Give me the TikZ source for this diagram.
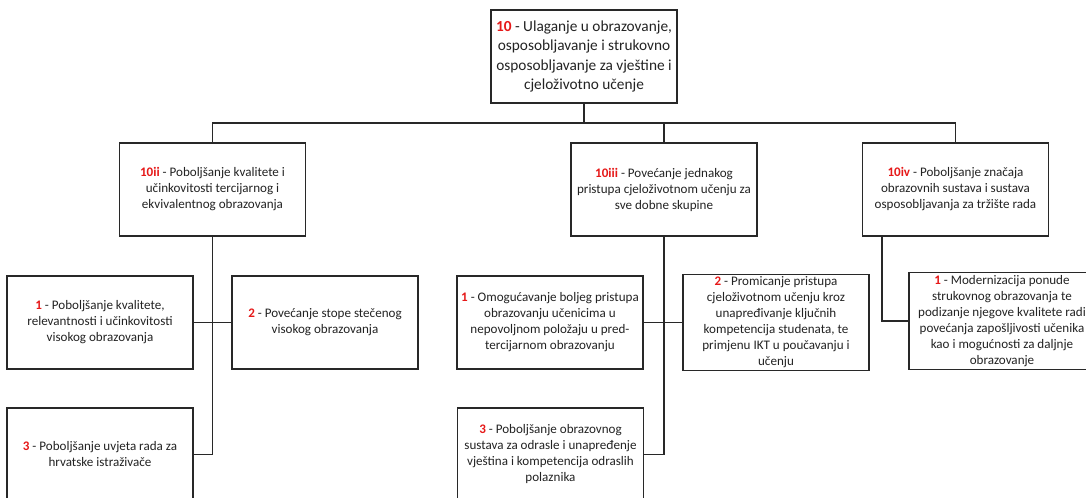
\documentclass[tikz,border=0pt]{standalone}
\usepackage{fontspec}
\setmainfont{Carlito}
\definecolor{GoalRed} {RGB}{230,25,25}
\definecolor{BoxLine} {RGB}{40,40,40}
\definecolor{BoxText} {RGB}{35,35,35}
\usetikzlibrary{positioning,calc}
\newcommand{\goalno}[1]{\textcolor{GoalRed}{\textbf{#1}}}

\begin{document}
\begin{tikzpicture}[x=0.75pt,y=-0.75pt,
  goalbox/.style={draw=BoxLine,line width=1pt,fill=white,text=BoxText,
    minimum width=139.5pt,minimum height=69.75pt,align=center,
    inner sep=2pt,font=\fontsize{9.8}{12}\selectfont},
  topbox/.style={goalbox,font=\fontsize{11.5}{14.6}\selectfont},
  link/.style={BoxLine,line width=1pt}]
  % Frame: the picture is cut at the bottom and on the right
  \useasboundingbox (0,0) rectangle (1086,497);
  \clip (0,0) rectangle (1086,497);
  % Thematic objective
  \node[topbox] (t10) at (584,56.5)
       {\goalno{10} - Ulaganje u obrazovanje,\\ osposobljavanje i strukovno\\
        osposobljavanje za vještine i\\ cjeloživotno učenje};
  % Investment priorities
  \node[goalbox] (t10ii) at (212.5,189.5)
       {\goalno{10ii} - Poboljšanje kvalitete i\\ učinkovitosti tercijarnog i\\
        ekvivalentnog obrazovanja};
  \node[goalbox] (t10iii) at (664,189.5)
       {\goalno{10iii} - Povećanje jednakog\\ pristupa cjeloživotnom učenju za\\
        sve dobne skupine};
  \node[goalbox] (t10iv) at (955.5,189.5)
       {\goalno{10iv} - Poboljšanje značaja\\ obrazovnih sustava i sustava\\
        osposobljavanja za tržište rada};
  % Specific objectives under 10ii
  \node[goalbox] (a1) at (100,322.5)
       {\goalno{1} - Poboljšanje kvalitete,\\ relevantnosti i učinkovitosti\\
        visokog obrazovanja};
  \node[goalbox] (a2) at (325,322.5)
       {\goalno{2} - Povećanje stope stečenog\\ visokog obrazovanja};
  \node[goalbox] (a3) at (100,454.5)
       {\goalno{3} - Poboljšanje uvjeta rada za\\ hrvatske istraživače};
  % Specific objectives under 10iii
  \node[goalbox] (b1) at (550,322.5)
       {\goalno{1} - Omogućavanje boljeg pristupa\\ obrazovanju učenicima u\\
        nepovoljnom položaju u pred-\\ tercijarnom obrazovanju};
  \node[goalbox] (b2) at (776,322.5)
       {\goalno{2} - Promicanje pristupa\\ cjeloživotnom učenju kroz\\
        unapređivanje ključnih\\ kompetencija studenata, te\\
        primjenu IKT u poučavanju i\\ učenju};
  \node[goalbox] (b3) at (550.5,454.5)
       {\goalno{3} - Poboljšanje obrazovnog\\ sustava za odrasle i unapređenje\\
        vještina i kompetencija odraslih\\ polaznika};
  % Specific objective under 10iv
  \node[goalbox] (c1) at (1002,321)
       {\goalno{1} - Modernizacija ponude\\ strukovnog obrazovanja te\\
        podizanje njegove kvalitete radi\\ povećanja zapošljivosti učenika\\
        kao i mogućnosti za daljnje\\ obrazovanje};
  % Tree lines
  \coordinate (bar) at (584,123);
  \draw[link] (t10.south) -- (bar);
  \draw[link] (t10ii.north) |- (bar) -| (t10iv.north);
  \draw[link] (t10iii.north) -- (t10iii.north |- bar);
  \draw[link] (t10ii.south) |- (a3.east);
  \draw[link] (a1.east) -- (a2.west);
  \draw[link] (t10iii.south) |- (b3.east);
  \draw[link] (b1.east) -- (b2.west);
  \coordinate (ivdrop) at ($(t10iv.south west)+(20,0)$);
  \draw[link] (ivdrop) |- (c1.west);
\end{tikzpicture}
\end{document}
